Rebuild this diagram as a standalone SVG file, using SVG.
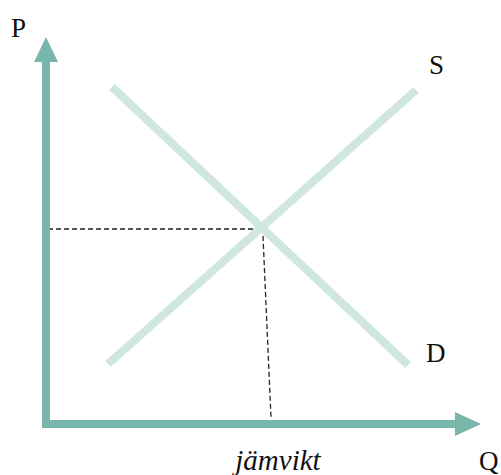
<svg xmlns="http://www.w3.org/2000/svg" width="501" height="475" viewBox="0 0 501 475">
<style>
.curve{stroke:#d0e6e1;stroke-width:8;fill:none}
.axis{stroke:#79b6ab;stroke-width:8;fill:none}
.head{fill:#79b6ab}
.dash{stroke:#222;stroke-width:1.3;stroke-dasharray:5,3;fill:none}
.lbl{font-family:"Liberation Serif",serif;font-size:27px;fill:#111}
.it{font-style:italic;font-size:29px}
</style>
<rect width="501" height="475" fill="#fff"/>
<g id="curves">
<line id="D" class="curve" x1="112" y1="87" x2="408" y2="365"/>
<line id="S" class="curve" x1="108" y1="364" x2="416" y2="90"/>
</g>
<g id="connectors">
<line class="dash" x1="48" y1="229" x2="256" y2="229"/>
<line class="dash" x1="263" y1="236" x2="271" y2="418"/>
</g>
<g id="axes">
<polyline class="axis" points="46,62 46,424 456,424"/>
<polygon class="head" points="46,37 58,62 34,62"/>
<polygon class="head" points="481,424 455,412 455,436"/>
</g>
<g id="labels">
<text class="lbl" x="11" y="37">P</text>
<text class="lbl" x="429" y="74">S</text>
<text class="lbl" x="426" y="362">D</text>
<text class="lbl" x="479" y="470">Q</text>
<text class="lbl it" x="278" y="470" text-anchor="middle">jämvikt</text>
</g>
</svg>
